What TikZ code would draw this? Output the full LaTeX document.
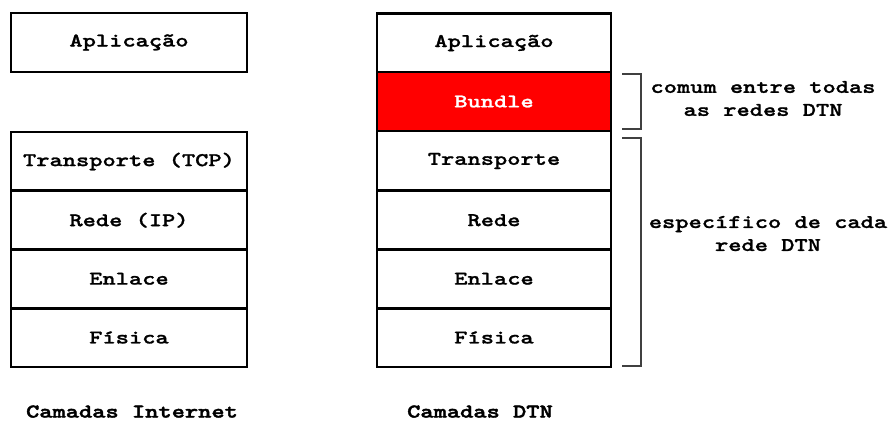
\documentclass[tikz,border=0pt]{standalone}
\usepackage{fontspec}
\newfontfamily\cour{lmmonolt10-bold}[Extension=.otf, FakeStretch=1.3, FakeBold=1.2]
\newfontfamily\courb{lmmonolt10-bold}[Extension=.otf, FakeStretch=1.3, FakeBold=2.2]
\begin{document}
\begin{tikzpicture}[x=1pt,y=-1pt,
  txt/.style={font=\cour\fontsize{19.4}{23}\selectfont},
  captxt/.style={font=\courb\fontsize{19.4}{23}\selectfont},
  layer/.style={txt, draw=black, line width=2.6pt, minimum width=236pt, minimum height=59pt, inner sep=0pt, anchor=center},
  brk/.style={draw=black!75, line width=1.3pt}
]
\useasboundingbox (0,0) rectangle (892,421);
% Internet stack
\node[layer] (iapp) at (129,42.5) {Aplicação};
\node[layer] (itra) at (129,161.5) {Transporte (TCP)};
\node[layer] (ired) at (129,220.25) {Rede (IP)};
\node[layer] (ienl) at (129,278.75) {Enlace};
\node[layer] (ifis) at (129,337.5) {Física};
\node[captxt, anchor=base] (ilab) at (132,417.5) {Camadas Internet};
% DTN stack
\node[layer, minimum width=234pt] (dapp) at (494,43) {Aplicação};
\node[layer, minimum width=234pt, fill=red, text=white] (dbun) at (494,101.5) {Bundle};
\node[layer, minimum width=234pt, minimum height=60pt] (dtra) at (494,161) {Transporte};
\node[layer, minimum width=234pt] (dred) at (494,220.25) {Rede};
\node[layer, minimum width=234pt] (denl) at (494,278.75) {Enlace};
\node[layer, minimum width=234pt] (dfis) at (494,337.5) {Física};
\node[captxt, anchor=base] (dlab) at (480,417.5) {Camadas DTN};
% brackets
\coordinate (b1a) at (622,74);
\coordinate (b1b) at (622,129);
\coordinate (b2a) at (622,138);
\coordinate (b2b) at (622,366);
\draw[brk] (b1a) -- ++(19,0) |- (b1b);
\draw[brk] (b2a) -- ++(19,0) |- (b2b);
\node[txt, align=center] (n1) at (763,98.5) {comum entre todas\\as redes DTN};
\node[txt, align=center] (n2) at (768,233.5) {específico de cada\\rede DTN};
\end{tikzpicture}
\end{document}
